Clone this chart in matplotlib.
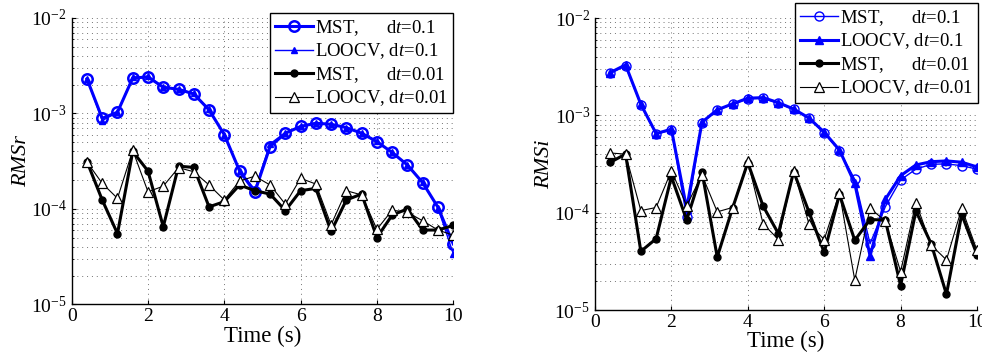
import matplotlib
matplotlib.use("Agg")
import matplotlib.pyplot as plt

plt.rcParams['font.family'] = ['Liberation Serif', 'DejaVu Serif']
plt.rcParams['mathtext.fontset'] = 'custom'
plt.rcParams['mathtext.rm'] = 'Liberation Serif'
plt.rcParams['mathtext.it'] = 'Liberation Serif:italic'

# time instants (s)
t = [0.4, 0.8, 1.2, 1.6, 2.0, 2.4, 2.8, 3.2, 3.6, 4.0, 4.4, 4.8, 5.2,
     5.6, 6.0, 6.4, 6.8, 7.2, 7.6, 8.0, 8.4, 8.8, 9.2, 9.6, 10.0]

# RMSr (left)
r_mst_01 = [2.3e-3, 8.9e-4, 1.03e-3, 2.35e-3, 2.41e-3, 1.88e-3, 1.79e-3, 1.60e-3,
            1.09e-3, 6.0e-4, 2.5e-4, 1.5e-4, 4.5e-4, 6.2e-4, 7.3e-4, 7.9e-4,
            7.7e-4, 7.1e-4, 6.2e-4, 5.06e-4, 3.9e-4, 2.88e-4, 1.88e-4, 1.04e-4, 4.3e-5]
r_loo_01 = [2.3e-3, 8.4e-4, 1.03e-3, 2.4e-3, 2.45e-3, 1.9e-3, 1.8e-3, 1.62e-3,
            1.1e-3, 6.0e-4, 2.5e-4, 1.6e-4, 4.8e-4, 6.3e-4, 7.4e-4, 7.9e-4,
            7.7e-4, 7.1e-4, 6.2e-4, 5.1e-4, 3.9e-4, 2.9e-4, 1.9e-4, 1.02e-4, 3.4e-5]
r_mst_001 = [3.13e-4, 1.24e-4, 5.5e-5, 4.0e-4, 2.49e-4, 6.5e-5, 2.8e-4, 2.72e-4,
             1.05e-4, 1.19e-4, 1.78e-4, 1.55e-4, 1.43e-4, 9.6e-5, 1.55e-4, 1.64e-4,
             5.8e-5, 1.24e-4, 1.43e-4, 5.0e-5, 8.6e-5, 1.0e-4, 6.0e-5, 6.0e-5, 6.7e-5]
r_loo_001 = [3.1e-4, 1.85e-4, 1.29e-4, 4.1e-4, 1.51e-4, 1.73e-4, 2.7e-4, 2.45e-4,
             1.78e-4, 1.24e-4, 1.96e-4, 2.2e-4, 1.78e-4, 1.12e-4, 2.09e-4, 1.82e-4,
             6.8e-5, 1.55e-4, 1.40e-4, 6.1e-5, 9.7e-5, 9.2e-5, 7.5e-5, 6.0e-5, 5.3e-5]

# RMSi (right)
i_mst_01 = [2.7e-3, 3.23e-3, 1.28e-3, 6.4e-4, 7.1e-4, 9.0e-5, 8.4e-4, 1.13e-3,
            1.30e-3, 1.48e-3, 1.5e-3, 1.33e-3, 1.15e-3, 9.3e-4, 6.6e-4, 4.3e-4,
            2.2e-4, 4.8e-5, 1.15e-4, 2.17e-4, 2.8e-4, 3.14e-4, 3.17e-4, 3.04e-4, 2.8e-4]
i_loo_01 = [2.75e-3, 3.3e-3, 1.3e-3, 6.5e-4, 7.2e-4, 1.1e-4, 8.5e-4, 1.14e-3,
            1.31e-3, 1.5e-3, 1.52e-3, 1.35e-3, 1.16e-3, 9.4e-4, 6.7e-4, 4.4e-4,
            2.0e-4, 3.6e-5, 1.37e-4, 2.4e-4, 3.09e-4, 3.34e-4, 3.4e-4, 3.3e-4, 2.95e-4]
i_mst_001 = [3.29e-4, 4.0e-4, 4.0e-5, 5.4e-5, 2.34e-4, 8.4e-5, 2.64e-4, 3.5e-5,
             1.11e-4, 3.27e-4, 1.17e-4, 6.1e-5, 2.64e-4, 1.02e-4, 3.9e-5, 1.54e-4,
             5.2e-5, 8.5e-5, 8.4e-5, 1.78e-5, 1.04e-4, 4.8e-5, 1.45e-5, 9.6e-5, 3.7e-5]
i_loo_001 = [4.1e-4, 4.0e-4, 1.05e-4, 1.13e-4, 2.7e-4, 1.18e-4, 2.44e-4, 1.02e-4,
             1.13e-4, 3.37e-4, 7.7e-5, 5.3e-5, 2.7e-4, 7.7e-5, 5.3e-5, 1.6e-4,
             2.03e-5, 1.11e-4, 8.2e-5, 2.48e-5, 1.27e-4, 4.65e-5, 3.27e-5, 1.11e-4, 4.1e-5]

labels = ["MST,      d$t$=0.1", "LOOCV, d$t$=0.1",
          "MST,      d$t$=0.01", "LOOCV, d$t$=0.01"]
blue = (0, 0, 1)

fig = plt.figure(figsize=(9.82, 3.58), dpi=100)
ax1 = fig.add_axes([71.7 / 982, 1 - 304.3 / 358, 381.5 / 982, 286.3 / 358])
ax2 = fig.add_axes([595 / 982, 1 - 310 / 358, 382 / 982, 292 / 358])


def style(ax, ylab):
    ax.set_yscale('log')
    ax.set_xlim(0, 10)
    ax.set_ylim(1e-5, 1e-2)
    ax.set_xticks([0, 2, 4, 6, 8, 10])
    ax.grid(True, which='major', axis='x', linestyle=(0, (1, 4)), color='0.45', lw=0.7)
    ax.grid(True, which='both', axis='y', linestyle=(0, (1, 4)), color='0.45', lw=0.7)
    for s in ['top', 'right']:
        ax.spines[s].set_visible(False)
    for s in ['left', 'bottom']:
        ax.spines[s].set_linewidth(1.0)
    ax.tick_params(which='both', direction='in', labelsize=14)
    ax.tick_params(axis='x', pad=3)
    ax.tick_params(which='major', length=3)
    ax.tick_params(which='minor', length=1.5)
    ax.set_xlabel("Time (s)", fontsize=16.5, labelpad=0)
    ax.set_ylabel(ylab, fontsize=16, style='italic', labelpad=0)


# left: RMSr
ax1.plot(t, r_mst_01, '-o', color=blue, lw=2.2, ms=7.5, mfc='none', mew=1.8, label=labels[0])
ax1.plot(t, r_loo_01, '-^', color=blue, lw=1.0, ms=4.5, mfc=blue, label=labels[1])
ax1.plot(t, r_mst_001, '-o', color='k', lw=2.2, ms=5, mfc='k', label=labels[2])
ax1.plot(t, r_loo_001, '-^', color='k', lw=0.8, ms=6.5, mfc='white', mew=0.9, label=labels[3])
style(ax1, "RMSr")

# right: RMSi
ax2.plot(t, i_mst_01, '-o', color=blue, lw=1.0, ms=6.5, mfc='none', mew=1.0, label=labels[0])
ax2.plot(t, i_loo_01, '-^', color=blue, lw=2.2, ms=6, mfc=blue, label=labels[1])
ax2.plot(t, i_mst_001, '-o', color='k', lw=2.2, ms=5, mfc='k', label=labels[2])
ax2.plot(t, i_loo_001, '-^', color='k', lw=0.8, ms=6.5, mfc='white', mew=0.9, label=labels[3])
style(ax2, "RMSi")

for ax, anchor in [(ax1, (453 / 982, 1 - 13 / 358)), (ax2, (978 / 982, 1 - 3 / 358))]:
    leg = ax.legend(loc='upper right', bbox_to_anchor=anchor, bbox_transform=fig.transFigure,
                    fontsize=13.5, fancybox=False, framealpha=1, edgecolor='k',
                    borderaxespad=0, handlelength=2.0, handletextpad=0.15,
                    labelspacing=0.2, borderpad=0.25)
    leg.get_frame().set_linewidth(1.0)

fig.savefig("out.png", dpi=100)
